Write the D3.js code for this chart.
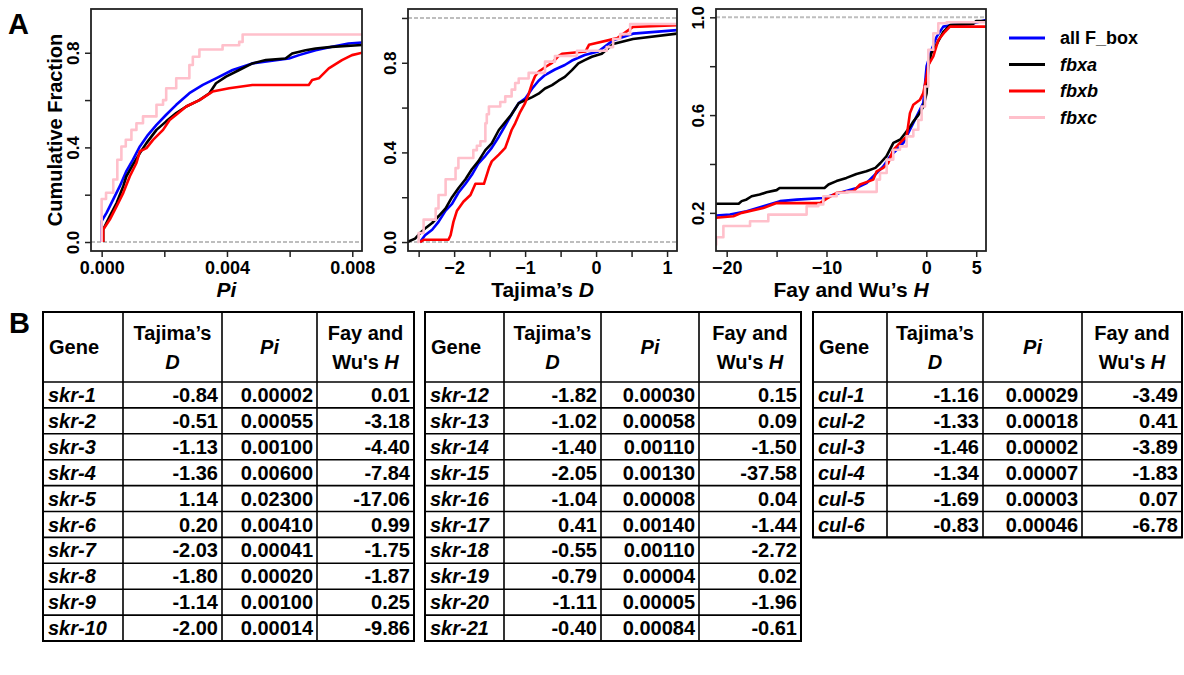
<!DOCTYPE html>
<html>
<head>
<meta charset="utf-8">
<script src="https://cdn.jsdelivr.net/npm/d3@7"></script>
<style>
  body { margin: 0; background: #fff; }
  text { font-family: "Liberation Sans", Arial, sans-serif; font-weight: bold; fill: #000; }
</style>
</head>
<body>
<svg width="1184" height="675"></svg>
<script>
// legend / series
const seriesNames = ["all F_box", "fbxa", "fbxb", "fbxc"];
const seriesColors = ["#0000ff", "#000000", "#ff0000", "#ffc0cb"];

// panel A, Pi : [value, cumulative fraction]
const piAll = [[0,0],[0,0.088],[0.00016,0.124],[0.00037,0.18],[0.00058,0.236],[0.00079,0.30],[0.001,0.348],[0.00122,0.404],[0.00148,0.453],[0.00175,0.495],[0.00206,0.538],[0.00238,0.58],[0.0028,0.629],[0.00323,0.664],[0.00365,0.692],[0.00418,0.727],[0.00481,0.755],[0.00556,0.769],[0.00598,0.776],[0.0063,0.79],[0.00683,0.811],[0.00735,0.825],[0.00788,0.839],[0.0085,0.845]];
const piFbxa = [[0.00005,0],[0.00005,0.053],[0.00026,0.11],[0.00048,0.166],[0.00069,0.236],[0.00079,0.278],[0.001,0.327],[0.00122,0.376],[0.00143,0.418],[0.00175,0.474],[0.00206,0.51],[0.00238,0.545],[0.0027,0.573],[0.00312,0.60],[0.00344,0.629],[0.00365,0.671],[0.00397,0.699],[0.00439,0.727],[0.00481,0.755],[0.00524,0.769],[0.00587,0.776],[0.00608,0.797],[0.00651,0.811],[0.00683,0.818],[0.00735,0.825],[0.0085,0.834]];
const piFbxb = [[0.00005,0],[0.00005,0.053],[0.00026,0.095],[0.00048,0.152],[0.00069,0.208],[0.0009,0.278],[0.00111,0.334],[0.00122,0.383],[0.00143,0.397],[0.00164,0.432],[0.00196,0.474],[0.00217,0.516],[0.00238,0.538],[0.0027,0.573],[0.00312,0.60],[0.00354,0.636],[0.00407,0.65],[0.00481,0.664],[0.00661,0.664],[0.00672,0.685],[0.00693,0.692],[0.00725,0.734],[0.00767,0.769],[0.00799,0.79],[0.0085,0.806]];
const piFbxc = [[0,0],[0,0.182],[0.00014,0.208],[0.00037,0.264],[0.0005,0.348],[0.00063,0.404],[0.00077,0.432],[0.00095,0.474],[0.00111,0.502],[0.00132,0.531],[0.00175,0.58],[0.00196,0.60],[0.00206,0.65],[0.00238,0.692],[0.0028,0.748],[0.00291,0.783],[0.00312,0.814],[0.00386,0.832],[0.00439,0.846],[0.0045,0.877],[0.0095,0.877]];

// panel A, Tajima's D
const tdAll = [[-2.48,0],[-2.41,0.03],[-2.31,0.055],[-2.22,0.09],[-2.12,0.14],[-2.03,0.17],[-1.94,0.22],[-1.84,0.26],[-1.75,0.30],[-1.66,0.35],[-1.56,0.385],[-1.47,0.42],[-1.37,0.47],[-1.28,0.52],[-1.19,0.57],[-1.09,0.62],[-1.0,0.64],[-0.9,0.685],[-0.81,0.72],[-0.72,0.745],[-0.58,0.77],[-0.44,0.79],[-0.34,0.81],[-0.16,0.835],[0.03,0.85],[0.24,0.9],[0.52,0.93],[1.3,0.95]];
const tdFbxa = [[-2.66,0],[-2.55,0.015],[-2.48,0.04],[-2.41,0.06],[-2.31,0.085],[-2.22,0.115],[-2.12,0.15],[-2.03,0.2],[-1.94,0.24],[-1.84,0.28],[-1.75,0.325],[-1.66,0.36],[-1.56,0.41],[-1.47,0.44],[-1.37,0.5],[-1.28,0.535],[-1.19,0.57],[-1.09,0.62],[-1.0,0.632],[-0.9,0.647],[-0.81,0.662],[-0.72,0.685],[-0.62,0.7],[-0.53,0.72],[-0.44,0.737],[-0.34,0.767],[-0.25,0.797],[-0.16,0.812],[-0.06,0.827],[0.08,0.84],[0.24,0.884],[0.52,0.906],[1.3,0.936]];
const tdFbxb = [[-2.48,0],[-2.43,0.01],[-2.08,0.01],[-2.05,0.03],[-2.01,0.09],[-1.96,0.14],[-1.87,0.18],[-1.77,0.21],[-1.7,0.26],[-1.58,0.26],[-1.51,0.33],[-1.47,0.36],[-1.37,0.39],[-1.28,0.42],[-1.19,0.5],[-1.14,0.53],[-1.07,0.58],[-1.0,0.62],[-0.95,0.66],[-0.9,0.71],[-0.86,0.74],[-0.81,0.76],[-0.72,0.78],[-0.62,0.8],[-0.53,0.83],[-0.48,0.84],[-0.15,0.85],[-0.1,0.88],[0.3,0.91],[0.52,0.96],[1.3,0.97]];
const tdFbxc = [[-2.52,0],[-2.5,0.04],[-2.43,0.1],[-2.26,0.15],[-2.22,0.21],[-2.12,0.28],[-1.98,0.33],[-1.94,0.375],[-1.73,0.41],[-1.68,0.43],[-1.63,0.45],[-1.56,0.53],[-1.54,0.57],[-1.51,0.605],[-1.35,0.625],[-1.28,0.65],[-1.19,0.68],[-1.14,0.71],[-1.09,0.73],[-0.95,0.755],[-0.72,0.805],[-0.58,0.83],[-0.27,0.854],[0.15,0.87],[0.24,0.906],[0.34,0.928],[0.48,0.973],[1.3,0.973]];

// panel A, Fay and Wu's H
const hAll = [[-25,0.185],[-21.1,0.189],[-19.67,0.193],[-18.0,0.207],[-16.33,0.227],[-14.66,0.248],[-12.99,0.254],[-10.32,0.261],[-8.65,0.282],[-6.98,0.302],[-5.98,0.322],[-4.97,0.363],[-4.31,0.39],[-3.64,0.431],[-2.97,0.458],[-2.3,0.486],[-1.64,0.54],[-0.97,0.595],[-0.3,0.65],[0.03,0.8],[0.53,0.867],[1.04,0.921],[1.7,0.962],[2.7,0.969],[4.37,0.972],[5.98,0.989],[7,0.99]];
const hFbxa = [[-25,0.237],[-18.8,0.237],[-18.5,0.248],[-18.0,0.255],[-17.5,0.268],[-16.7,0.275],[-16.0,0.284],[-15.0,0.293],[-14.7,0.302],[-10.2,0.302],[-9.8,0.316],[-9.0,0.33],[-8.0,0.343],[-7.0,0.359],[-6.0,0.37],[-5.1,0.384],[-4.6,0.404],[-4.0,0.431],[-3.3,0.486],[-2.6,0.5],[-2.1,0.527],[-1.6,0.554],[-1.3,0.574],[-0.8,0.6],[-0.3,0.635],[0.03,0.69],[0.2,0.8],[0.5,0.853],[1.0,0.887],[1.7,0.94],[2.4,0.969],[4.7,0.973],[5.0,0.985],[7,0.985]];
const hFbxb = [[-25,0.18],[-21.1,0.18],[-19.33,0.186],[-18.5,0.2],[-16.33,0.22],[-15.0,0.24],[-10.65,0.24],[-9.98,0.258],[-8.98,0.282],[-7.31,0.288],[-6.64,0.316],[-5.31,0.336],[-4.97,0.37],[-4.31,0.384],[-3.81,0.404],[-3.31,0.458],[-2.64,0.486],[-1.97,0.513],[-1.64,0.608],[-1.3,0.642],[-0.63,0.663],[-0.3,0.69],[0.03,0.758],[0.2,0.805],[0.7,0.84],[1.2,0.907],[1.87,0.941],[2.37,0.962],[7,0.962]];
const hFbxc = [[-25,0.07],[-21.05,0.10],[-20.33,0.146],[-17.66,0.166],[-15.83,0.193],[-11.99,0.227],[-10.82,0.234],[-10.32,0.268],[-8.98,0.282],[-7.98,0.286],[-4.97,0.336],[-4.64,0.363],[-3.97,0.418],[-3.31,0.458],[-2.64,0.472],[-1.97,0.513],[-1.3,0.54],[-0.8,0.58],[-0.47,0.635],[-0.13,0.717],[0.2,0.867],[0.7,0.935],[1.2,0.976],[2.04,0.98],[7,0.98]];

// ticks
const piTicks = [0, 0.002, 0.004, 0.006, 0.008];
const piLabels = [0, 0.004, 0.008];
const tdTicks = [-2.5, -2, -1.5, -1, -0.5, 0, 0.5, 1];
const tdLabels = [-2, -1, 0, 1];
const hTicks = [-20, -15, -10, -5, 0, 5];
const hLabels = [-20, -10, 0, 5];
const fracTicks = [0, 0.2, 0.4, 0.6, 0.8, 1.0];

// panel B tables
const genes1 = ["skr-1","skr-2","skr-3","skr-4","skr-5","skr-6","skr-7","skr-8","skr-9","skr-10"];
const tajima1 = [-0.84,-0.51,-1.13,-1.36,1.14,0.20,-2.03,-1.80,-1.14,-2.00];
const pi1 = [0.00002,0.00055,0.00100,0.00600,0.02300,0.00410,0.00041,0.00020,0.00100,0.00014];
const fay1 = [0.01,-3.18,-4.40,-7.84,-17.06,0.99,-1.75,-1.87,0.25,-9.86];

const genes2 = ["skr-12","skr-13","skr-14","skr-15","skr-16","skr-17","skr-18","skr-19","skr-20","skr-21"];
const tajima2 = [-1.82,-1.02,-1.40,-2.05,-1.04,0.41,-0.55,-0.79,-1.11,-0.40];
const pi2 = [0.00030,0.00058,0.00110,0.00130,0.00008,0.00140,0.00110,0.00004,0.00005,0.00084];
const fay2 = [0.15,0.09,-1.50,-37.58,0.04,-1.44,-2.72,0.02,-1.96,-0.61];

const genes3 = ["cul-1","cul-2","cul-3","cul-4","cul-5","cul-6"];
const tajima3 = [-1.16,-1.33,-1.46,-1.34,-1.69,-0.83];
const pi3 = [0.00029,0.00018,0.00002,0.00007,0.00003,0.00046];
const fay3 = [-3.49,0.41,-3.89,-1.83,0.07,-6.78];

const svg = d3.select("svg");
const plotTop = 9, plotBottom = 251;

const panels = [
  { left: 91, right: 362, xDom: [-0.00034, 0.00831], yDom: [-0.038, 0.985],
    xTicks: piTicks, xLab: piLabels, fmt: d => d.toFixed(3),
    yTicks: [0, 0.2, 0.4, 0.6, 0.8], yLab: [0, 0.4, 0.8],
    data: [piAll, piFbxa, piFbxb, piFbxc], title: [["Pi", true]] },
  { left: 408, right: 677, xDom: [-2.65, 1.14], yDom: [-0.04, 1.04],
    xTicks: tdTicks, xLab: tdLabels, fmt: d3.format("d"),
    yTicks: fracTicks, yLab: [0, 0.4, 0.8],
    data: [tdAll, tdFbxa, tdFbxb, tdFbxc], title: [["Tajima\u2019s ", false], ["D", true]] },
  { left: 716, right: 986, xDom: [-21.07, 5.98], yDom: [0.044, 1.034],
    xTicks: hTicks, xLab: hLabels, fmt: d3.format("d"),
    yTicks: fracTicks.slice(1), yLab: [0.2, 0.6, 1.0],
    data: [hAll, hFbxa, hFbxb, hFbxc], title: [["Fay and Wu\u2019s ", false], ["H", true]] }
];

panels.forEach((p, i) => {
  const x = d3.scaleLinear().domain(p.xDom).range([p.left, p.right]);
  const y = d3.scaleLinear().domain(p.yDom).range([plotBottom, plotTop]);
  const g = svg.append("g");

  svg.append("clipPath").attr("id", "clip" + i)
    .append("rect")
    .attr("x", p.left).attr("y", plotTop)
    .attr("width", p.right - p.left).attr("height", plotBottom - plotTop);

  const inner = g.append("g").attr("clip-path", `url(#clip${i})`);

  // dotted reference lines at 0 and 1
  inner.selectAll(".ref")
    .data([0, 1])
    .enter()
    .append("line")
    .attr("x1", p.left).attr("x2", p.right)
    .attr("y1", d => y(d)).attr("y2", d => y(d))
    .attr("stroke", "#bebebe")
    .attr("stroke-width", 2)
    .attr("stroke-dasharray", "4,2");

  p.data.forEach((d, k) => {
    const line = d3.line()
      .x(e => x(e[0]))
      .y(e => y(e[1]))
      .curve(k === 3 ? d3.curveStepAfter : d3.curveLinear);
    inner.append("path")
      .datum(d)
      .attr("d", line)
      .attr("fill", "none")
      .attr("stroke", seriesColors[k])
      .attr("stroke-width", 2.6)
      .attr("stroke-linejoin", "round");
  });

  g.append("rect")
    .attr("x", p.left).attr("y", plotTop)
    .attr("width", p.right - p.left).attr("height", plotBottom - plotTop)
    .attr("fill", "none").attr("stroke", "#222").attr("stroke-width", 1.8);

  const xa = g.append("g")
    .attr("transform", `translate(0,${plotBottom})`)
    .call(d3.axisBottom(x).tickValues(p.xTicks).tickSize(6).tickPadding(4)
      .tickFormat(d => p.xLab.includes(d) ? p.fmt(d) : ""));
  xa.select(".domain").remove();
  xa.selectAll("line").attr("stroke", "#222").attr("stroke-width", 1.5);
  xa.selectAll("text").attr("font-size", 18);

  const ya = g.append("g")
    .attr("transform", `translate(${p.left},0)`)
    .call(d3.axisLeft(y).tickValues(p.yTicks).tickSize(6)
      .tickFormat(d => p.yLab.includes(d) ? d.toFixed(1) : ""));
  ya.select(".domain").remove();
  ya.selectAll("line").attr("stroke", "#222").attr("stroke-width", 1.5);
  ya.selectAll("text")
    .attr("font-size", 17)
    .attr("transform", "rotate(-90)")
    .attr("x", 0).attr("y", -18).attr("dy", "0.35em")
    .attr("text-anchor", "middle");

  const t = svg.append("text")
    .attr("x", (p.left + p.right) / 2).attr("y", 297)
    .attr("text-anchor", "middle").attr("font-size", 21);
  p.title.forEach(s => t.append("tspan").attr("font-style", s[1] ? "italic" : "normal").text(s[0]));
});

svg.append("text")
  .attr("transform", `translate(55,${(plotTop + plotBottom) / 2}) rotate(-90)`)
  .attr("text-anchor", "middle").attr("dy", "0.35em")
  .attr("font-size", 20)
  .text("Cumulative Fraction");

// legend
const legend = svg.append("g").attr("transform", "translate(1009,38)");
const leg = legend.selectAll("g")
  .data(seriesNames)
  .enter()
  .append("g")
  .attr("transform", (d, k) => `translate(0,${k * 26.5})`);
leg.append("line")
  .attr("x1", 0).attr("x2", 36).attr("y1", 0).attr("y2", 0)
  .attr("stroke", (d, k) => seriesColors[k]).attr("stroke-width", 3);
leg.append("text")
  .attr("x", 51).attr("dy", "0.35em").attr("font-size", 18)
  .attr("font-style", (d, k) => k === 0 ? "normal" : "italic")
  .text(d => d);

// panel letters
svg.append("text").attr("x", 8).attr("y", 34).attr("font-size", 29).text("A");
svg.append("text").attr("x", 9).attr("y", 333).attr("font-size", 29).text("B");

// tables
const tables = [
  { left: 43, widths: [80, 99, 95, 97], genes: genes1, taj: tajima1, pi: pi1, fay: fay1 },
  { left: 425, widths: [79, 97, 98, 102], genes: genes2, taj: tajima2, pi: pi2, fay: fay2 },
  { left: 813, widths: [74, 96, 99, 100], genes: genes3, taj: tajima3, pi: pi3, fay: fay3 }
];
const headTop = 312, headBottom = 382, rowH = 25.9;

tables.forEach(tb => {
  const edges = [tb.left];
  tb.widths.forEach(w => edges.push(edges[edges.length - 1] + w));
  const n = tb.genes.length;
  const row = d3.scaleBand().domain(d3.range(n)).range([headBottom, headBottom + n * rowH]);
  const g = svg.append("g");
  const right = edges[4];
  const bottom = headBottom + n * rowH;

  // grid
  g.selectAll(".hl")
    .data([headTop, headBottom].concat(d3.range(1, n + 1).map(r => headBottom + r * rowH)))
    .enter().append("line")
    .attr("x1", tb.left).attr("x2", right)
    .attr("y1", d => d).attr("y2", d => d)
    .attr("stroke", "#000").attr("stroke-width", 1.6);
  g.selectAll(".vl")
    .data(edges)
    .enter().append("line")
    .attr("x1", d => d).attr("x2", d => d)
    .attr("y1", headTop).attr("y2", bottom)
    .attr("stroke", "#000").attr("stroke-width", 1.6);
  g.append("rect")
    .attr("x", tb.left).attr("y", headTop)
    .attr("width", right - tb.left).attr("height", bottom - headTop)
    .attr("fill", "none").attr("stroke", "#000").attr("stroke-width", 2);

  // header
  const fs = 20;
  g.append("text").attr("x", edges[0] + 6).attr("y", 354).attr("font-size", fs).text("Gene");
  const c1 = (edges[1] + edges[2]) / 2, c2 = (edges[2] + edges[3]) / 2, c3 = (edges[3] + edges[4]) / 2;
  g.append("text").attr("x", c1).attr("y", 340).attr("text-anchor", "middle").attr("font-size", fs).text("Tajima\u2019s");
  g.append("text").attr("x", c1).attr("y", 369).attr("text-anchor", "middle").attr("font-size", fs).attr("font-style", "italic").text("D");
  g.append("text").attr("x", c2).attr("y", 354).attr("text-anchor", "middle").attr("font-size", fs).attr("font-style", "italic").text("Pi");
  g.append("text").attr("x", c3).attr("y", 340).attr("text-anchor", "middle").attr("font-size", fs).text("Fay and");
  const w = g.append("text").attr("x", c3).attr("y", 369).attr("text-anchor", "middle").attr("font-size", fs);
  w.append("tspan").text("Wu's ");
  w.append("tspan").attr("font-style", "italic").text("H");

  // body
  const rows = g.selectAll(".row")
    .data(d3.range(n))
    .enter().append("g")
    .attr("transform", r => `translate(0,${row(r) + 20})`);
  rows.append("text").attr("x", edges[0] + 5).attr("font-size", fs).attr("font-style", "italic")
    .text(r => tb.genes[r]);
  rows.append("text").attr("x", edges[2] - 4).attr("text-anchor", "end").attr("font-size", fs)
    .text(r => tb.taj[r].toFixed(2));
  rows.append("text").attr("x", edges[3] - 4).attr("text-anchor", "end").attr("font-size", fs)
    .text(r => tb.pi[r].toFixed(5));
  rows.append("text").attr("x", edges[4] - 4).attr("text-anchor", "end").attr("font-size", fs)
    .text(r => tb.fay[r].toFixed(2));
});
</script>
</body>
</html>
